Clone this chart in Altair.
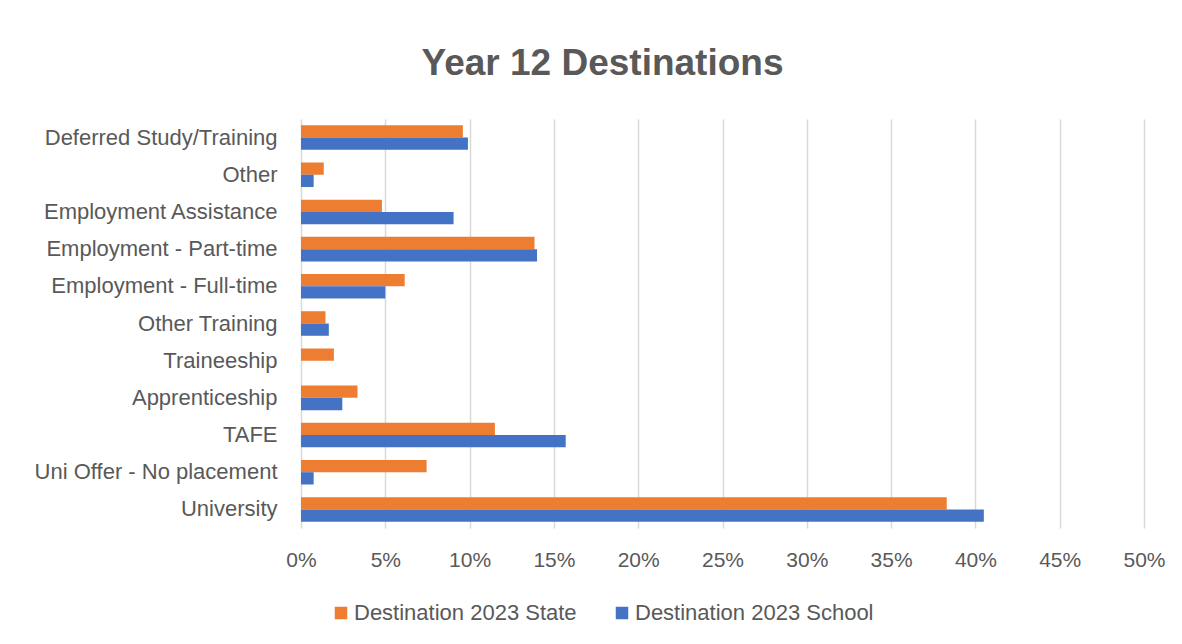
import altair as alt
import pandas as pd

categories = [
    "Deferred Study/Training",
    "Other",
    "Employment Assistance",
    "Employment - Part-time",
    "Employment - Full-time",
    "Other Training",
    "Traineeship",
    "Apprenticeship",
    "TAFE",
    "Uni Offer - No placement\u00a0",
    "University",
]
state = [9.6, 1.35, 4.8, 13.85, 6.15, 1.45, 1.95, 3.35, 11.5, 7.45, 38.3]
school = [9.9, 0.75, 9.05, 14.0, 5.0, 1.65, 0.0, 2.45, 15.7, 0.75, 40.5]
series = ["Destination 2023 State", "Destination 2023 School"]
colors = ["#ED7D31", "#4472C4"]
x_ticks = [i / 100 for i in range(0, 55, 5)]

rows = []
for c, s, h in zip(categories, state, school):
    rows.append({"category": c, "series": series[0], "value": s / 100})
    rows.append({"category": c, "series": series[1], "value": h / 100})
df = pd.DataFrame(rows)

FONT = "Liberation Sans"
GREY = "#595959"

chart = (
    alt.Chart(df)
    .mark_bar()
    .encode(
        y=alt.Y(
            "category:N",
            sort=categories,
            title=None,
            scale=alt.Scale(paddingInner=0.34, paddingOuter=0.17),
            axis=alt.Axis(
                labelFontSize=22,
                labelColor=GREY,
                labelFont=FONT,
                labelPadding=24,
                ticks=False,
                domain=False,
                grid=False,
                labelLimit=400,
            ),
        ),
        yOffset=alt.YOffset("series:N", sort=series),
        x=alt.X(
            "value:Q",
            title=None,
            scale=alt.Scale(domain=[0, 0.5], nice=False),
            axis=alt.Axis(
                format=".0%",
                values=x_ticks,
                labelFontSize=21,
                labelColor=GREY,
                labelFont=FONT,
                labelPadding=21,
                labelFlush=False,
                ticks=False,
                domain=False,
                grid=True,
                gridColor="#D9D9D9",
                gridWidth=1.5,
            ),
        ),
        color=alt.Color(
            "series:N",
            sort=series,
            scale=alt.Scale(domain=series, range=colors),
            legend=alt.Legend(
                title=None,
                orient="none",
                legendX=29,
                legendY=483,
                direction="horizontal",
                symbolType="square",
                symbolSize=156,
                symbolStrokeWidth=0,
                labelFontSize=22,
                labelColor=GREY,
                labelFont=FONT,
                labelOffset=2,
                labelLimit=400,
                columnPadding=34,
                padding=0,
            ),
        ),
    )
    .properties(
        width=843,
        height=409,
        autosize=alt.AutoSizeParams(type="none"),
        padding={"left": 293, "top": 111, "right": 30, "bottom": 108},
        title=alt.TitleParams(
            "Year 12 Destinations",
            fontSize=37,
            fontWeight="bold",
            color=GREY,
            font=FONT,
            anchor="middle",
            frame="group",
            dx=-120,
            offset=36,
        ),
        background="white",
    )
    .configure_view(stroke=None)
)

chart.save("out.html", embed_options={"renderer": "svg", "actions": False})
